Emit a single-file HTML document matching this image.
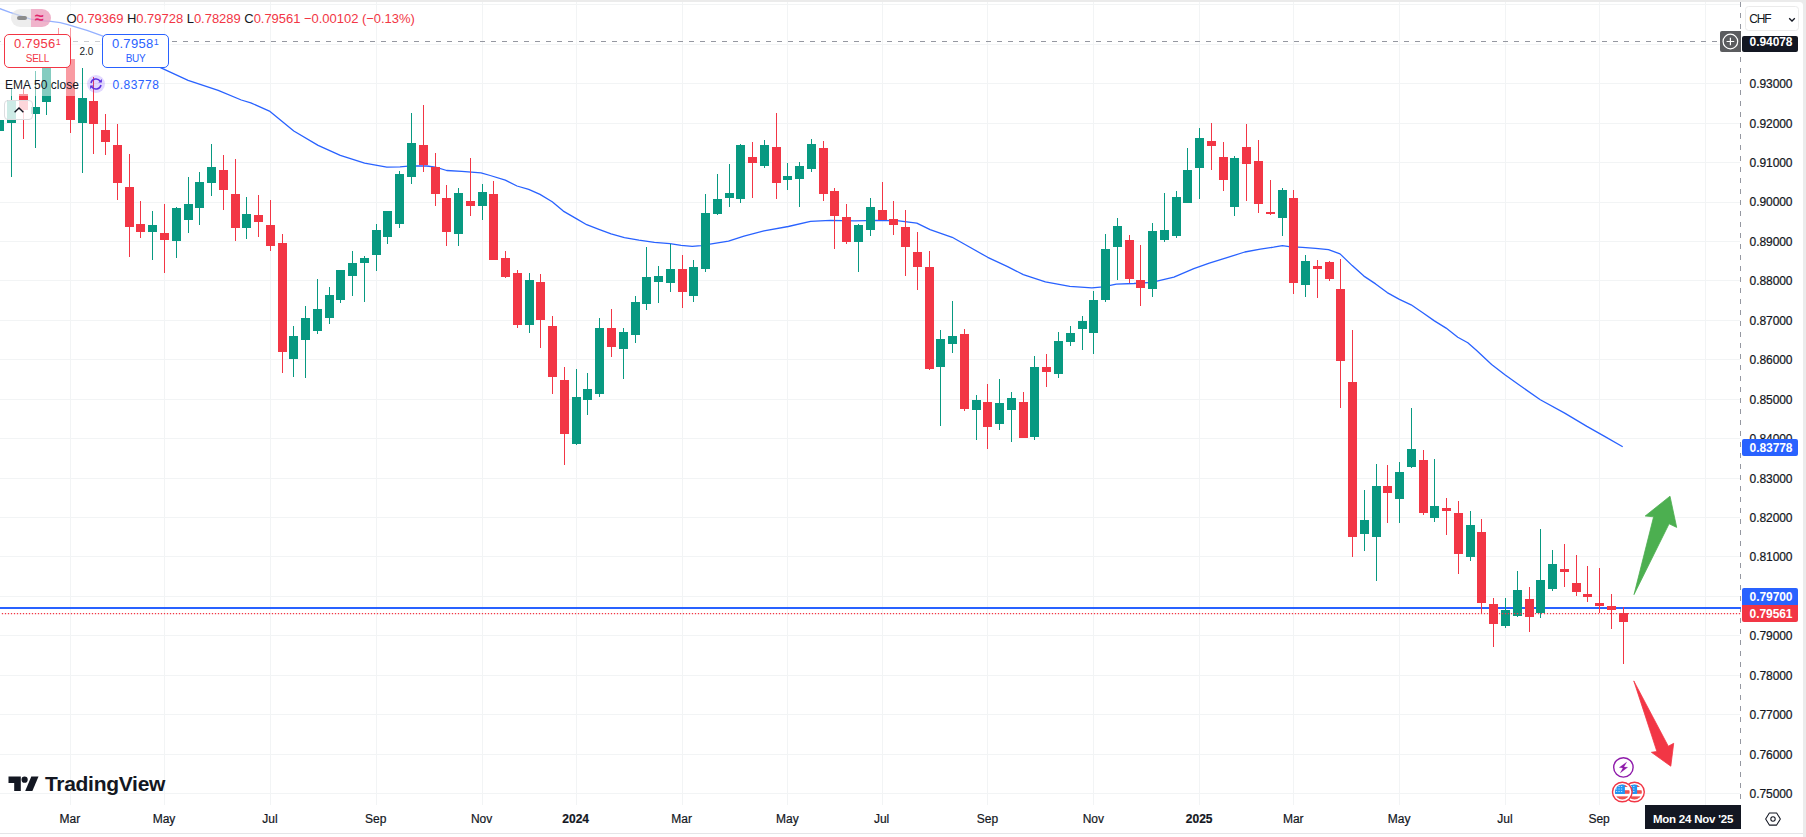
<!DOCTYPE html><html><head><meta charset="utf-8"><title>USDCHF chart</title><style>
*{box-sizing:border-box}
html,body{margin:0;padding:0}
body{width:1806px;height:837px;overflow:hidden;background:#ebebeb;font-family:"Liberation Sans",sans-serif;color:#131722;position:relative}
.page{position:absolute;left:0;top:2px;width:1803px;height:835px;background:#fff;border-top-right-radius:3.5px;overflow:hidden}
.chart{position:absolute;left:0;top:-2px}
.abs{position:absolute;white-space:nowrap;line-height:1}
.plab{-webkit-text-stroke:0.22px #131722;position:absolute;left:1749.6px;width:44px;font-size:12px;line-height:12px;letter-spacing:-0.08px;white-space:nowrap}
.tlab{-webkit-text-stroke:0.2px #131722;position:absolute;top:811.4px;width:60px;margin-left:-30px;text-align:center;font-size:12px;line-height:12px;white-space:nowrap}
.tlab.b{font-weight:bold}
.tag{position:absolute;left:1742px;width:56px;color:#fff;font-weight:bold;font-size:12px;line-height:12px;letter-spacing:-0.08px;padding-left:7.6px;white-space:nowrap}
.fade{position:absolute;background:rgba(255,255,255,.5)}
.bsbox{position:absolute;top:32px;width:67px;height:34px;border:1px solid;border-radius:5px;background:#fff;text-align:center}
.bsbox .p{position:absolute;left:0;right:0;top:2.4px;font-size:13px;line-height:13px;letter-spacing:0.32px}
.bsbox .p sup{font-size:9px;line-height:9px;vertical-align:top;position:relative;top:0.8px;margin-left:0.2px}
.bsbox .l{position:absolute;left:0;right:0;top:19px;font-size:10px;line-height:10px;letter-spacing:-0.3px}
</style></head><body><div class="page">
<svg class="chart" width="1806" height="837" viewBox="0 0 1806 837" shape-rendering="crispEdges">
<g fill="#f2f4f5">
<rect x="0" y="4" width="1740" height="1"/>
<rect x="0" y="44" width="1740" height="1"/>
<rect x="0" y="83" width="1740" height="1"/>
<rect x="0" y="123" width="1740" height="1"/>
<rect x="0" y="162" width="1740" height="1"/>
<rect x="0" y="202" width="1740" height="1"/>
<rect x="0" y="241" width="1740" height="1"/>
<rect x="0" y="280" width="1740" height="1"/>
<rect x="0" y="320" width="1740" height="1"/>
<rect x="0" y="359" width="1740" height="1"/>
<rect x="0" y="399" width="1740" height="1"/>
<rect x="0" y="438" width="1740" height="1"/>
<rect x="0" y="478" width="1740" height="1"/>
<rect x="0" y="517" width="1740" height="1"/>
<rect x="0" y="556" width="1740" height="1"/>
<rect x="0" y="596" width="1740" height="1"/>
<rect x="0" y="635" width="1740" height="1"/>
<rect x="0" y="675" width="1740" height="1"/>
<rect x="0" y="714" width="1740" height="1"/>
<rect x="0" y="754" width="1740" height="1"/>
<rect x="0" y="793" width="1740" height="1"/>
<rect x="70" y="2" width="1" height="803"/>
<rect x="164" y="2" width="1" height="803"/>
<rect x="270" y="2" width="1" height="803"/>
<rect x="376" y="2" width="1" height="803"/>
<rect x="482" y="2" width="1" height="803"/>
<rect x="576" y="2" width="1" height="803"/>
<rect x="682" y="2" width="1" height="803"/>
<rect x="787" y="2" width="1" height="803"/>
<rect x="882" y="2" width="1" height="803"/>
<rect x="987" y="2" width="1" height="803"/>
<rect x="1093" y="2" width="1" height="803"/>
<rect x="1199" y="2" width="1" height="803"/>
<rect x="1293" y="2" width="1" height="803"/>
<rect x="1399" y="2" width="1" height="803"/>
<rect x="1505" y="2" width="1" height="803"/>
<rect x="1599" y="2" width="1" height="803"/>
<rect x="1705" y="2" width="1" height="803"/>
</g>
<g stroke="#9598a1" stroke-width="1" fill="none" stroke-dasharray="5.5 5.5">
<line x1="-4.1" y1="41.5" x2="1720" y2="41.5"/>
<line x1="1740.5" y1="1.5" x2="1740.5" y2="802"/>
</g>
<rect x="0" y="607" width="1741" height="2" fill="#2962ff"/>
<polyline points="-2.0,8.0 0.0,8.7 10.0,12.4 20.0,15.7 30.8,19.1 40.1,20.7 50.8,21.4 60.2,22.7 66.9,24.4 73.6,26.4 87.0,30.4 103.0,36.1 117.0,42.5 129.0,49.5 141.0,57.0 153.0,64.0 160.5,67.7 188.1,80.3 218.2,90.3 241.3,100.0 250.8,102.8 269.4,111.1 293.8,131.0 318.1,145.4 340.3,155.4 364.6,163.1 386.8,167.1 400.0,166.9 411.2,165.8 426.7,166.0 435.5,167.1 446.7,170.5 461.8,171.3 481.0,172.8 490.2,175.5 505.3,180.2 517.0,186.0 528.7,189.4 540.0,194.4 552.2,201.7 563.3,211.1 576.7,218.9 586.7,224.7 598.9,229.4 611.1,233.9 624.4,237.6 638.9,240.2 654.4,242.4 670.0,243.7 681.1,245.3 692.2,246.4 701.1,245.6 710.0,244.2 728.5,241.1 744.0,236.2 764.0,230.9 788.3,226.5 810.5,221.4 830.4,220.3 854.8,220.9 876.9,220.3 896.9,220.7 916.8,223.1 930.1,229.6 952.2,237.3 969.9,247.3 987.7,257.3 1007.6,266.6 1023.3,274.6 1045.4,281.9 1069.8,286.4 1091.9,287.9 1103.0,286.8 1116.3,284.2 1134.0,283.5 1151.7,282.4 1173.9,277.1 1193.8,268.7 1209.3,263.1 1227.0,257.6 1244.8,252.0 1260.3,249.2 1273.6,247.2 1282.4,245.6 1289.1,246.7 1302.4,247.4 1315.6,248.3 1328.5,249.7 1340.0,253.9 1352.2,265.6 1363.9,276.1 1375.6,283.9 1387.2,292.6 1399.4,299.4 1411.1,304.8 1422.8,312.8 1434.4,320.9 1446.1,328.1 1457.8,337.2 1467.8,342.8 1476.1,350.0 1491.6,364.4 1504.9,374.8 1518.2,384.3 1540.3,399.8 1564.7,413.1 1586.9,426.4 1604.6,436.4 1622.7,446.8" fill="none" stroke="#2962ff" stroke-width="1.3" stroke-linejoin="round" shape-rendering="geometricPrecision"/>
<g fill="#089981">
<rect x="-1" y="108" width="1" height="42"/>
<rect x="-5" y="120" width="9" height="11"/>
<rect x="11" y="89" width="1" height="88"/>
<rect x="7" y="100" width="9" height="23"/>
<rect x="35" y="71" width="1" height="77"/>
<rect x="31" y="107" width="9" height="7"/>
<rect x="46" y="41" width="1" height="74"/>
<rect x="42" y="43" width="9" height="59"/>
<rect x="82" y="68" width="1" height="105"/>
<rect x="78" y="98" width="9" height="25"/>
<rect x="152" y="211" width="1" height="49"/>
<rect x="148" y="225" width="9" height="7"/>
<rect x="176" y="207" width="1" height="51"/>
<rect x="172" y="208" width="9" height="33"/>
<rect x="188" y="177" width="1" height="56"/>
<rect x="184" y="204" width="9" height="16"/>
<rect x="199" y="172" width="1" height="53"/>
<rect x="195" y="182" width="9" height="26"/>
<rect x="211" y="144" width="1" height="52"/>
<rect x="207" y="167" width="9" height="16"/>
<rect x="246" y="197" width="1" height="42"/>
<rect x="242" y="214" width="9" height="14"/>
<rect x="293" y="326" width="1" height="51"/>
<rect x="289" y="336" width="9" height="23"/>
<rect x="305" y="306" width="1" height="72"/>
<rect x="301" y="318" width="9" height="22"/>
<rect x="317" y="279" width="1" height="55"/>
<rect x="313" y="309" width="9" height="22"/>
<rect x="329" y="287" width="1" height="37"/>
<rect x="325" y="295" width="9" height="23"/>
<rect x="340" y="270" width="1" height="33"/>
<rect x="336" y="270" width="9" height="30"/>
<rect x="352" y="251" width="1" height="45"/>
<rect x="348" y="263" width="9" height="13"/>
<rect x="364" y="256" width="1" height="46"/>
<rect x="360" y="258" width="9" height="5"/>
<rect x="376" y="224" width="1" height="47"/>
<rect x="372" y="230" width="9" height="25"/>
<rect x="387" y="211" width="1" height="33"/>
<rect x="383" y="211" width="9" height="26"/>
<rect x="399" y="171" width="1" height="57"/>
<rect x="395" y="174" width="9" height="50"/>
<rect x="411" y="113" width="1" height="71"/>
<rect x="407" y="143" width="9" height="34"/>
<rect x="458" y="188" width="1" height="58"/>
<rect x="454" y="193" width="9" height="41"/>
<rect x="482" y="184" width="1" height="36"/>
<rect x="478" y="192" width="9" height="14"/>
<rect x="529" y="273" width="1" height="60"/>
<rect x="525" y="280" width="9" height="45"/>
<rect x="576" y="369" width="1" height="76"/>
<rect x="572" y="397" width="9" height="47"/>
<rect x="587" y="373" width="1" height="42"/>
<rect x="583" y="389" width="9" height="11"/>
<rect x="599" y="318" width="1" height="79"/>
<rect x="595" y="328" width="9" height="66"/>
<rect x="623" y="328" width="1" height="51"/>
<rect x="619" y="332" width="9" height="17"/>
<rect x="635" y="296" width="1" height="47"/>
<rect x="631" y="302" width="9" height="33"/>
<rect x="646" y="247" width="1" height="63"/>
<rect x="642" y="277" width="9" height="27"/>
<rect x="658" y="266" width="1" height="37"/>
<rect x="654" y="276" width="9" height="6"/>
<rect x="670" y="244" width="1" height="48"/>
<rect x="666" y="269" width="9" height="14"/>
<rect x="693" y="260" width="1" height="42"/>
<rect x="689" y="267" width="9" height="29"/>
<rect x="705" y="194" width="1" height="78"/>
<rect x="701" y="213" width="9" height="56"/>
<rect x="717" y="174" width="1" height="41"/>
<rect x="713" y="199" width="9" height="15"/>
<rect x="729" y="164" width="1" height="43"/>
<rect x="725" y="193" width="9" height="5"/>
<rect x="740" y="144" width="1" height="59"/>
<rect x="736" y="145" width="9" height="54"/>
<rect x="764" y="140" width="1" height="28"/>
<rect x="760" y="145" width="9" height="21"/>
<rect x="787" y="163" width="1" height="27"/>
<rect x="783" y="176" width="9" height="4"/>
<rect x="799" y="162" width="1" height="45"/>
<rect x="795" y="166" width="9" height="13"/>
<rect x="811" y="139" width="1" height="33"/>
<rect x="807" y="144" width="9" height="25"/>
<rect x="858" y="224" width="1" height="48"/>
<rect x="854" y="225" width="9" height="17"/>
<rect x="870" y="198" width="1" height="38"/>
<rect x="866" y="207" width="9" height="23"/>
<rect x="940" y="330" width="1" height="96"/>
<rect x="936" y="339" width="9" height="28"/>
<rect x="952" y="301" width="1" height="52"/>
<rect x="948" y="336" width="9" height="8"/>
<rect x="976" y="395" width="1" height="45"/>
<rect x="972" y="400" width="9" height="10"/>
<rect x="999" y="379" width="1" height="51"/>
<rect x="995" y="403" width="9" height="21"/>
<rect x="1011" y="392" width="1" height="50"/>
<rect x="1007" y="398" width="9" height="12"/>
<rect x="1034" y="356" width="1" height="84"/>
<rect x="1030" y="367" width="9" height="70"/>
<rect x="1058" y="332" width="1" height="46"/>
<rect x="1054" y="341" width="9" height="33"/>
<rect x="1070" y="326" width="1" height="20"/>
<rect x="1066" y="333" width="9" height="9"/>
<rect x="1082" y="316" width="1" height="34"/>
<rect x="1078" y="321" width="9" height="8"/>
<rect x="1093" y="291" width="1" height="63"/>
<rect x="1089" y="300" width="9" height="33"/>
<rect x="1105" y="234" width="1" height="68"/>
<rect x="1101" y="249" width="9" height="51"/>
<rect x="1117" y="218" width="1" height="62"/>
<rect x="1113" y="226" width="9" height="21"/>
<rect x="1152" y="223" width="1" height="74"/>
<rect x="1148" y="231" width="9" height="58"/>
<rect x="1164" y="193" width="1" height="49"/>
<rect x="1160" y="230" width="9" height="10"/>
<rect x="1176" y="191" width="1" height="47"/>
<rect x="1172" y="197" width="9" height="39"/>
<rect x="1187" y="148" width="1" height="55"/>
<rect x="1183" y="170" width="9" height="33"/>
<rect x="1199" y="128" width="1" height="71"/>
<rect x="1195" y="138" width="9" height="30"/>
<rect x="1234" y="156" width="1" height="60"/>
<rect x="1230" y="158" width="9" height="49"/>
<rect x="1282" y="188" width="1" height="48"/>
<rect x="1278" y="190" width="9" height="28"/>
<rect x="1305" y="255" width="1" height="42"/>
<rect x="1301" y="261" width="9" height="24"/>
<rect x="1364" y="490" width="1" height="61"/>
<rect x="1360" y="520" width="9" height="14"/>
<rect x="1376" y="464" width="1" height="117"/>
<rect x="1372" y="486" width="9" height="51"/>
<rect x="1399" y="462" width="1" height="61"/>
<rect x="1395" y="472" width="9" height="27"/>
<rect x="1411" y="408" width="1" height="60"/>
<rect x="1407" y="449" width="9" height="18"/>
<rect x="1434" y="459" width="1" height="63"/>
<rect x="1430" y="506" width="9" height="12"/>
<rect x="1470" y="511" width="1" height="50"/>
<rect x="1466" y="525" width="9" height="32"/>
<rect x="1505" y="598" width="1" height="30"/>
<rect x="1501" y="610" width="9" height="16"/>
<rect x="1517" y="571" width="1" height="46"/>
<rect x="1513" y="590" width="9" height="26"/>
<rect x="1540" y="529" width="1" height="89"/>
<rect x="1536" y="580" width="9" height="33"/>
<rect x="1552" y="550" width="1" height="41"/>
<rect x="1548" y="564" width="9" height="25"/>
</g>
<g fill="#f23645">
<rect x="23" y="87" width="1" height="52"/>
<rect x="19" y="94" width="9" height="16"/>
<rect x="58" y="28" width="1" height="40"/>
<rect x="54" y="43" width="9" height="16"/>
<rect x="70" y="28" width="1" height="105"/>
<rect x="66" y="59" width="9" height="61"/>
<rect x="93" y="77" width="1" height="77"/>
<rect x="89" y="101" width="9" height="23"/>
<rect x="105" y="114" width="1" height="41"/>
<rect x="101" y="130" width="9" height="12"/>
<rect x="117" y="124" width="1" height="76"/>
<rect x="113" y="145" width="9" height="38"/>
<rect x="129" y="154" width="1" height="103"/>
<rect x="125" y="187" width="9" height="40"/>
<rect x="140" y="201" width="1" height="37"/>
<rect x="136" y="224" width="9" height="8"/>
<rect x="164" y="204" width="1" height="69"/>
<rect x="160" y="233" width="9" height="7"/>
<rect x="223" y="155" width="1" height="55"/>
<rect x="219" y="170" width="9" height="20"/>
<rect x="235" y="159" width="1" height="82"/>
<rect x="231" y="194" width="9" height="34"/>
<rect x="258" y="195" width="1" height="42"/>
<rect x="254" y="215" width="9" height="7"/>
<rect x="270" y="200" width="1" height="51"/>
<rect x="266" y="225" width="9" height="21"/>
<rect x="282" y="234" width="1" height="139"/>
<rect x="278" y="243" width="9" height="109"/>
<rect x="423" y="105" width="1" height="67"/>
<rect x="419" y="145" width="9" height="20"/>
<rect x="435" y="153" width="1" height="53"/>
<rect x="431" y="167" width="9" height="27"/>
<rect x="446" y="185" width="1" height="61"/>
<rect x="442" y="198" width="9" height="34"/>
<rect x="470" y="158" width="1" height="58"/>
<rect x="466" y="201" width="9" height="5"/>
<rect x="493" y="181" width="1" height="79"/>
<rect x="489" y="194" width="9" height="66"/>
<rect x="505" y="251" width="1" height="27"/>
<rect x="501" y="258" width="9" height="19"/>
<rect x="517" y="270" width="1" height="58"/>
<rect x="513" y="273" width="9" height="52"/>
<rect x="540" y="274" width="1" height="74"/>
<rect x="536" y="282" width="9" height="38"/>
<rect x="552" y="316" width="1" height="78"/>
<rect x="548" y="326" width="9" height="51"/>
<rect x="564" y="367" width="1" height="98"/>
<rect x="560" y="380" width="9" height="54"/>
<rect x="611" y="309" width="1" height="48"/>
<rect x="607" y="328" width="9" height="19"/>
<rect x="682" y="255" width="1" height="53"/>
<rect x="678" y="269" width="9" height="23"/>
<rect x="752" y="142" width="1" height="56"/>
<rect x="748" y="157" width="9" height="6"/>
<rect x="776" y="113" width="1" height="86"/>
<rect x="772" y="147" width="9" height="36"/>
<rect x="823" y="141" width="1" height="60"/>
<rect x="819" y="148" width="9" height="46"/>
<rect x="834" y="188" width="1" height="61"/>
<rect x="830" y="191" width="9" height="25"/>
<rect x="846" y="204" width="1" height="40"/>
<rect x="842" y="217" width="9" height="25"/>
<rect x="882" y="182" width="1" height="38"/>
<rect x="878" y="210" width="9" height="10"/>
<rect x="893" y="201" width="1" height="34"/>
<rect x="889" y="219" width="9" height="6"/>
<rect x="905" y="210" width="1" height="66"/>
<rect x="901" y="227" width="9" height="20"/>
<rect x="917" y="232" width="1" height="58"/>
<rect x="913" y="252" width="9" height="15"/>
<rect x="929" y="251" width="1" height="119"/>
<rect x="925" y="267" width="9" height="102"/>
<rect x="964" y="329" width="1" height="82"/>
<rect x="960" y="334" width="9" height="75"/>
<rect x="987" y="384" width="1" height="65"/>
<rect x="983" y="402" width="9" height="25"/>
<rect x="1023" y="392" width="1" height="46"/>
<rect x="1019" y="402" width="9" height="36"/>
<rect x="1046" y="354" width="1" height="33"/>
<rect x="1042" y="367" width="9" height="5"/>
<rect x="1129" y="235" width="1" height="48"/>
<rect x="1125" y="240" width="9" height="39"/>
<rect x="1140" y="245" width="1" height="61"/>
<rect x="1136" y="280" width="9" height="8"/>
<rect x="1211" y="123" width="1" height="47"/>
<rect x="1207" y="141" width="9" height="5"/>
<rect x="1223" y="142" width="1" height="49"/>
<rect x="1219" y="157" width="9" height="23"/>
<rect x="1246" y="124" width="1" height="77"/>
<rect x="1242" y="147" width="9" height="17"/>
<rect x="1258" y="140" width="1" height="73"/>
<rect x="1254" y="161" width="9" height="43"/>
<rect x="1270" y="180" width="1" height="35"/>
<rect x="1266" y="212" width="9" height="2"/>
<rect x="1293" y="190" width="1" height="104"/>
<rect x="1289" y="198" width="9" height="85"/>
<rect x="1317" y="260" width="1" height="38"/>
<rect x="1313" y="266" width="9" height="3"/>
<rect x="1329" y="261" width="1" height="20"/>
<rect x="1325" y="262" width="9" height="17"/>
<rect x="1340" y="259" width="1" height="149"/>
<rect x="1336" y="289" width="9" height="72"/>
<rect x="1352" y="330" width="1" height="227"/>
<rect x="1348" y="382" width="9" height="155"/>
<rect x="1387" y="465" width="1" height="58"/>
<rect x="1383" y="486" width="9" height="7"/>
<rect x="1423" y="450" width="1" height="65"/>
<rect x="1419" y="460" width="9" height="53"/>
<rect x="1446" y="498" width="1" height="37"/>
<rect x="1442" y="508" width="9" height="3"/>
<rect x="1458" y="501" width="1" height="73"/>
<rect x="1454" y="513" width="9" height="41"/>
<rect x="1481" y="519" width="1" height="94"/>
<rect x="1477" y="532" width="9" height="71"/>
<rect x="1493" y="598" width="1" height="49"/>
<rect x="1489" y="604" width="9" height="20"/>
<rect x="1529" y="587" width="1" height="45"/>
<rect x="1525" y="599" width="9" height="18"/>
<rect x="1564" y="544" width="1" height="43"/>
<rect x="1560" y="569" width="9" height="3"/>
<rect x="1576" y="555" width="1" height="41"/>
<rect x="1572" y="583" width="9" height="9"/>
<rect x="1587" y="566" width="1" height="36"/>
<rect x="1583" y="594" width="9" height="3"/>
<rect x="1599" y="568" width="1" height="45"/>
<rect x="1595" y="603" width="9" height="3"/>
<rect x="1611" y="594" width="1" height="35"/>
<rect x="1607" y="606" width="9" height="4"/>
<rect x="1623" y="607" width="1" height="57"/>
<rect x="1619" y="613" width="9" height="9"/>
</g>
<line x1="1.85" y1="613.55" x2="1741" y2="613.55" stroke="#f23645" stroke-width="1.3" stroke-dasharray="1.3 1.7" shape-rendering="geometricPrecision"/>
<g shape-rendering="geometricPrecision">
<polygon points="1670,496.2 1676.7,527.4 1669.1,523.8 1634,594.6 1653.6,516.8 1645.2,516" fill="#4caf50" stroke="#4caf50" stroke-width="0.8" stroke-linejoin="round"/>
<polygon points="1633.8,680.9 1668.3,746.2 1673.7,743.3 1670.8,766.2 1651.4,752.3 1656.9,751.5" fill="#f23645" stroke="#f23645" stroke-width="0.8" stroke-linejoin="round"/>
<circle cx="1623.4" cy="767.4" r="9.7" fill="#fff" stroke="#8e1aaa" stroke-width="1.4"/>
<path transform="translate(1623.4 767.4)" d="M3.35 -5.35L-4.2 0.13L-0.47 0.54L-3.15 5.5L4.35 -0.13L0.54 -0.47Z" fill="#8e1aaa" stroke="#8e1aaa" stroke-width="0.2" stroke-linejoin="round"/>
<clipPath id="fc2"><circle cx="1634.5" cy="792.0" r="7.4"/></clipPath><circle cx="1634.5" cy="792.0" r="9.8" fill="#fff" stroke="#f23645" stroke-width="1.4"/><g clip-path="url(#fc2)"><rect x="1626.5" y="784.0" width="16" height="16" fill="#fff"/><rect x="1626.5" y="784.60" width="16" height="2.40" fill="#ef5350"/><rect x="1626.5" y="790.20" width="16" height="3.60" fill="#ef5350"/><rect x="1626.5" y="796.35" width="16" height="3.65" fill="#ef5350"/><rect x="1626.5" y="784.0" width="10.6" height="10" fill="#2196f3"/><rect x="1628.1" y="786.0" width="1.3" height="1" fill="#bbdefb"/><rect x="1630.6" y="786.0" width="1.3" height="1" fill="#bbdefb"/><rect x="1633.1" y="786.0" width="1.3" height="1" fill="#bbdefb"/><rect x="1628.1" y="788.5" width="1.3" height="1" fill="#bbdefb"/><rect x="1630.6" y="788.5" width="1.3" height="1" fill="#bbdefb"/><rect x="1633.1" y="788.5" width="1.3" height="1" fill="#bbdefb"/><rect x="1628.1" y="791.0" width="1.3" height="1" fill="#bbdefb"/><rect x="1630.6" y="791.0" width="1.3" height="1" fill="#bbdefb"/><rect x="1633.1" y="791.0" width="1.3" height="1" fill="#bbdefb"/></g>
<clipPath id="fc1"><circle cx="1622.3" cy="792.0" r="7.4"/></clipPath><circle cx="1622.3" cy="792.0" r="9.8" fill="#fff" stroke="#f23645" stroke-width="1.4"/><g clip-path="url(#fc1)"><rect x="1614.3" y="784.0" width="16" height="16" fill="#fff"/><rect x="1614.3" y="784.60" width="16" height="2.40" fill="#ef5350"/><rect x="1614.3" y="790.20" width="16" height="3.60" fill="#ef5350"/><rect x="1614.3" y="796.35" width="16" height="3.65" fill="#ef5350"/><rect x="1614.3" y="784.0" width="10.6" height="10" fill="#2196f3"/><rect x="1615.9" y="786.0" width="1.3" height="1" fill="#bbdefb"/><rect x="1618.4" y="786.0" width="1.3" height="1" fill="#bbdefb"/><rect x="1620.9" y="786.0" width="1.3" height="1" fill="#bbdefb"/><rect x="1615.9" y="788.5" width="1.3" height="1" fill="#bbdefb"/><rect x="1618.4" y="788.5" width="1.3" height="1" fill="#bbdefb"/><rect x="1620.9" y="788.5" width="1.3" height="1" fill="#bbdefb"/><rect x="1615.9" y="791.0" width="1.3" height="1" fill="#bbdefb"/><rect x="1618.4" y="791.0" width="1.3" height="1" fill="#bbdefb"/><rect x="1620.9" y="791.0" width="1.3" height="1" fill="#bbdefb"/></g>
</g>
</svg>
<div class="plab" style="top:76.1px">0.93000</div>
<div class="plab" style="top:115.5px">0.92000</div>
<div class="plab" style="top:155.0px">0.91000</div>
<div class="plab" style="top:194.4px">0.90000</div>
<div class="plab" style="top:233.9px">0.89000</div>
<div class="plab" style="top:273.3px">0.88000</div>
<div class="plab" style="top:312.7px">0.87000</div>
<div class="plab" style="top:352.2px">0.86000</div>
<div class="plab" style="top:391.6px">0.85000</div>
<div class="plab" style="top:431.1px">0.84000</div>
<div class="plab" style="top:470.5px">0.83000</div>
<div class="plab" style="top:509.9px">0.82000</div>
<div class="plab" style="top:549.4px">0.81000</div>
<div class="plab" style="top:588.8px">0.80000</div>
<div class="plab" style="top:628.3px">0.79000</div>
<div class="plab" style="top:667.7px">0.78000</div>
<div class="plab" style="top:707.1px">0.77000</div>
<div class="plab" style="top:746.6px">0.76000</div>
<div class="plab" style="top:786.0px">0.75000</div>
<div class="tag" style="top:34px;height:15.5px;background:#131722;border-radius:2px;padding-top:0.4px">0.94078</div>
<div class="tag" style="top:437.3px;height:16.4px;background:#2962ff;border-radius:2px;padding-top:2.5px">0.83778</div>
<div class="tag" style="top:586px;height:17.1px;background:#2962ff;border-radius:2px 2px 0 0;padding-top:3px">0.79700</div>
<div class="tag" style="top:603.1px;height:16.9px;background:#f23645;border-radius:0 0 2px 2px;padding-top:2.5px">0.79561</div>
<div class="abs" style="left:1720px;top:29px;width:21px;height:21px;background:#5b5c5f;border-radius:2px 0 0 2px"><svg width="21" height="21" viewBox="0 0 21 21" style="position:absolute;left:0;top:0"><circle cx="10.4" cy="10.5" r="7.3" fill="none" stroke="#fff" stroke-width="1.2"/><path d="M10.4 6.7v7.6M6.6 10.5h7.6" stroke="#fff" stroke-width="1.2" fill="none"/></svg></div>
<div class="abs" style="left:1745px;top:4px;width:54px;height:25px;border:1px solid #ebebeb;border-radius:3.5px;background:#fff"><span class="abs" style="left:3.3px;top:6px;font-size:12px;letter-spacing:-1.2px">CHF</span><svg width="8" height="6" viewBox="0 0 8 6" style="position:absolute;left:42.3px;top:9.8px"><path d="M1.2 1.3L4 4l2.8-2.7" fill="none" stroke="#131722" stroke-width="1.3"/></svg></div>
<div class="tlab" style="left:69.9px">Mar</div>
<div class="tlab" style="left:164.0px">May</div>
<div class="tlab" style="left:269.9px">Jul</div>
<div class="tlab" style="left:375.7px">Sep</div>
<div class="tlab" style="left:481.6px">Nov</div>
<div class="tlab b" style="left:575.7px">2024</div>
<div class="tlab" style="left:681.6px">Mar</div>
<div class="tlab" style="left:787.4px">May</div>
<div class="tlab" style="left:881.6px">Jul</div>
<div class="tlab" style="left:987.4px">Sep</div>
<div class="tlab" style="left:1093.3px">Nov</div>
<div class="tlab b" style="left:1199.2px">2025</div>
<div class="tlab" style="left:1293.3px">Mar</div>
<div class="tlab" style="left:1399.1px">May</div>
<div class="tlab" style="left:1505.0px">Jul</div>
<div class="tlab" style="left:1599.1px">Sep</div>
<div class="abs" style="left:1645px;top:803px;width:96px;height:24px;background:#131722;color:#fff;font-weight:bold;font-size:11.5px;text-align:center;padding-top:8.6px;letter-spacing:-0.22px">Mon 24 Nov '25</div>
<svg class="abs" width="18" height="16" viewBox="0 0 18 16" style="left:1763.7px;top:809.4px"><path d="M5.35 1.9h7.3L16.35 8l-3.7 6.1H5.35L1.65 8z" fill="none" stroke="#131722" stroke-width="1.05" stroke-linejoin="round"/><circle cx="9" cy="8" r="2.2" fill="none" stroke="#131722" stroke-width="1.05"/></svg>
<div class="abs" style="left:0;top:831px;width:1803px;height:1px;background:#e4e5e8"></div>
<div class="fade" style="left:0;top:4px;width:172px;height:62px"></div>
<div class="fade" style="left:0;top:66px;width:80px;height:28px"></div>
<div class="abs" style="left:11px;top:7px;width:40px;height:18px;border-radius:9px;overflow:hidden"><div class="abs" style="left:0;top:0;width:20px;height:18px;background:rgba(225,225,225,.6)"></div><div class="abs" style="left:20px;top:0;width:20px;height:18px;background:rgba(236,160,190,.8)"></div><div class="abs" style="left:6px;top:7px;width:10px;height:4px;border-radius:2px;background:#8c8c8c"></div><span class="abs" style="left:24px;top:1.2px;font-size:16px;color:#e0246c;font-weight:bold">≈</span></div>
<div class="abs" id="ohlc" style="left:66.5px;top:10.3px;font-size:13px;letter-spacing:-0.03px;color:#f23645"><span style="color:#131722">O</span>0.79369 <span style="color:#131722">H</span>0.79728 <span style="color:#131722">L</span>0.78289 <span style="color:#131722">C</span>0.79561 −0.00102 (−0.13%)</div>
<div class="bsbox" style="left:4px;border-color:#f23645;color:#f23645"><div class="p">0.7956<sup>1</sup></div><div class="l">SELL</div></div>
<div class="abs" style="left:79.5px;top:44.6px;font-size:10px;color:#131722">2.0</div>
<div class="bsbox" style="left:102px;border-color:#2962ff;color:#2962ff"><div class="p">0.7958<sup>1</sup></div><div class="l">BUY</div></div>
<div class="abs" id="ema" style="left:5px;top:76.6px;font-size:12px;letter-spacing:0.06px">EMA 50 close</div>
<div class="abs" style="left:87px;top:73px;width:18px;height:18px;border-radius:9px;background:rgba(124,77,255,.22)"><svg width="18" height="18" viewBox="0 0 18 18" style="position:absolute;left:0;top:0"><g fill="none" stroke="#5b2fe0" stroke-width="1.5"><path d="M4.0 8.0A5.1 5.1 0 0 1 13.2 6.2"/><path d="M14.0 10.0A5.1 5.1 0 0 1 4.8 11.8"/></g><path d="M14.9 3.9v3.6h-3.6z" fill="#5b2fe0"/><path d="M3.1 14.1v-3.6h3.6z" fill="#5b2fe0"/></svg></div>
<div class="abs" id="emav" style="left:112.6px;top:76.6px;font-size:12px;letter-spacing:0.48px;color:#2962ff">0.83778</div>
<div class="abs" style="left:4px;top:97.5px;width:29px;height:20px;border:1px solid #dcdde0;border-radius:4px;background:rgba(255,255,255,.8)"><svg width="12" height="8" viewBox="0 0 12 8" style="position:absolute;left:7.6px;top:5.6px"><path d="M1.6 6.2L6 1.9l4.4 4.3" fill="none" stroke="#131722" stroke-width="1.4"/></svg></div>
<svg class="abs" width="31" height="16" viewBox="0 0 31 16" style="left:7.5px;top:773.8px"><path d="M0.5 0.6h12.3v14.3H6.2V6.9H0.5z" fill="#131722"/><circle cx="16.6" cy="3.7" r="3.1" fill="#131722"/><path d="M23.3 0.6h7.2l-6.1 14.3h-7.2z" fill="#131722"/></svg>
<div class="abs" id="logo" style="left:44.9px;top:770.8px;font-size:21px;font-weight:bold;letter-spacing:-0.28px;color:#131722">TradingView</div>
</div></body></html>
